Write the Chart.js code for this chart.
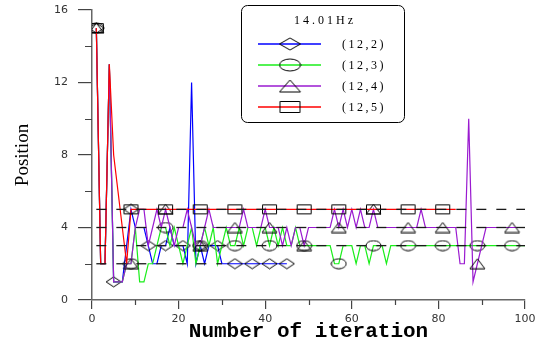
<!DOCTYPE html>
<html>
<head>
<meta charset="utf-8">
<script src="https://cdn.jsdelivr.net/npm/chart.js@4.4.1/dist/chart.umd.min.js"></script>
<style>
  html, body { margin: 0; padding: 0; background: #fff; }
  #wrap { width: 540px; height: 345px; }
</style>
</head>
<body>
<div id="wrap"><canvas id="chart" width="540" height="345"></canvas></div>
<script>
// values, one entry per iteration starting at 1
const firstIteration = 1;
const seriesLabels = ['(12,2)', '(12,3)', '(12,4)', '(12,5)'];
const legendTitle = '14.01Hz';

const blueVals = [15, 2, 2, 13, 1, 1, 1, 3, 5, 4,
                  4, 4, 3, 2, 2, 3, 3, 4, 3, 3,
                  3, 2, 12, 2, 3, 2, 3, 3, 3, 2,
                  2, 2, 2, 2, 2, 2, 2, 2, 2, 2,
                  2, 2, 2, 2, 2];
const greenVals = [15, 2, 2, 13, 1, 1, 1, 2, 2, 4,
                   1, 1, 2, 2, 3, 4, 4, 3, 4, 3,
                   2, 3, 4, 2, 3, 4, 3, 4, 2, 3,
                   4, 3, 3, 4, 3, 4, 4, 3, 4, 4,
                   3, 4, 3, 4, 3, 3, 4, 3, 3, 3,
                   3, 3, 3, 3, 3, 2, 2, 3, 3, 3,
                   2, 3, 3, 2, 3, 3, 3, 2, 3, 3,
                   3, 3, 3, 3, 3, 3, 3, 3, 3, 3,
                   3, 3, 3, 3, 3, 3, 3, 3, 3, 3,
                   3, 3, 3, 3, 3, 3, 3, 3, 3, 3];
const purpleVals = [15, 2, 2, 13, 1, 1, 1, 2, 2, 4,
                    5, 5, 3, 4, 5, 4, 5, 4, 3, 4,
                    4, 5, 4, 3, 3, 4, 5, 4, 4, 4,
                    4, 4, 4, 4, 5, 4, 4, 4, 4, 5,
                    4, 4, 4, 3, 4, 3, 4, 4, 3, 4,
                    4, 4, 4, 4, 4, 5, 4, 5, 4, 5,
                    4, 5, 4, 4, 5, 4, 4, 4, 4, 4,
                    4, 4, 4, 4, 4, 5, 4, 4, 4, 4,
                    4, 4, 4, 4, 2, 2, 10, 1, 2, 3,
                    4, 4, 4, 4, 4, 4, 4, 4, 4, 4];
const redVals = [15, 2, 2, 13, 8, 6, 4, 2, 5, 5,
                 5, 5, 5, 5, 5, 5, 5, 5, 5, 5,
                 5, 5, 5, 5, 5, 5, 5, 5, 5, 5,
                 5, 5, 5, 5, 5, 5, 5, 5, 5, 5,
                 5, 5, 5, 5, 5, 5, 5, 5, 5, 5,
                 5, 5, 5, 5, 5, 5, 5, 5, 5, 5,
                 5, 5, 5, 5, 5, 5, 5, 5, 5, 5,
                 5, 5, 5, 5, 5, 5, 5, 5, 5, 5,
                 5, 5, 5, 5];

// black dashed reference levels
const dashLevels = [5, 4, 3, 2];
const dashStart = [1, 1, 1, 1];
const dashEnd = [100, 100, 100, 30];

const xMinorTicks = [10, 30, 50, 70, 90];
const yMinorTicks = [2, 6, 10, 14];

const colors = ['#0000ff', '#1aee1a', '#9a1ad0', '#ff0000'];
const markerEvery = [4, 8, 8, 8];
const shapes = ['diamond', 'ellipse', 'triangle', 'rect'];

function makeMarker(shape, w, h) {
    const c = document.createElement('canvas');
    c.width = w + 2;
    c.height = h + 2;
    const g = c.getContext('2d');
    g.strokeStyle = '#000';
    g.lineWidth = 1;
    const cx = c.width / 2, cy = c.height / 2;
    g.beginPath();
    if (shape === 'diamond') {
        g.moveTo(cx, 1); g.lineTo(w + 1, cy); g.lineTo(cx, h + 1); g.lineTo(1, cy); g.closePath();
    } else if (shape === 'ellipse') {
        g.ellipse(cx, cy, w / 2, h / 2, 0, 0, Math.PI * 2);
    } else if (shape === 'triangle') {
        g.moveTo(cx, 1); g.lineTo(w + 1, h + 1); g.lineTo(1, h + 1); g.closePath();
    } else {
        g.rect(1.5, 1.5, w - 1, h - 1);
    }
    g.stroke();
    return c;
}

const plotMarkers = shapes.map(s => makeMarker(s, 15, 10));
const legendMarkers = shapes.map(s => makeMarker(s, 21, 12));

const toPoints = vals => vals.map((v, i) => ({ x: firstIteration + i, y: v }));

const seriesVals = [blueVals, greenVals, purpleVals, redVals];
const seriesOrder = [4, 3, 2, 1];

const datasets = seriesVals.map((vals, k) => ({
    label: seriesLabels[k],
    data: toPoints(vals),
    borderColor: colors[k],
    borderWidth: 1.2,
    tension: 0,
    pointStyle: plotMarkers[k],
    pointRadius: ctx => (ctx.dataIndex % markerEvery[k] === 0 ? 5 : 0),
    pointHoverRadius: 0,
    order: seriesOrder[k],
}));

dashLevels.forEach((lvl, k) => {
    datasets.push({
        label: 'level ' + lvl,
        data: [{ x: dashStart[k], y: lvl }, { x: dashEnd[k], y: lvl }],
        borderColor: '#1a1a1a',
        borderWidth: 1.3,
        borderDash: [10, 10],
        pointRadius: 0,
        order: 0,
    });
});

const extras = {
    id: 'extras',
    afterDraw(chart) {
        const { ctx, scales: { x, y } } = chart;
        ctx.save();
        // minor ticks
        ctx.strokeStyle = '#444';
        ctx.lineWidth = 1.2;
        ctx.beginPath();
        yMinorTicks.forEach(v => {
            const py = Math.round(y.getPixelForValue(v)) + 0.5;
            ctx.moveTo(x.left - 7, py);
            ctx.lineTo(x.left, py);
        });
        xMinorTicks.forEach(v => {
            const px = Math.round(x.getPixelForValue(v)) + 0.5;
            ctx.moveTo(px, y.bottom);
            ctx.lineTo(px, y.bottom + 5);
        });
        ctx.stroke();

        // legend box
        ctx.beginPath();
        ctx.roundRect(241.5, 5.5, 163, 117, 6);
        ctx.fillStyle = '#fff';
        ctx.fill();
        ctx.strokeStyle = '#000';
        ctx.lineWidth = 1;
        ctx.stroke();

        ctx.fillStyle = '#000';
        ctx.textBaseline = 'middle';
        ctx.font = '12px "Liberation Serif"';
        ctx.letterSpacing = '3px';
        ctx.textAlign = 'center';
        ctx.fillText(legendTitle, 325, 21);

        const rowY = [44, 65, 86, 107];
        ctx.font = '12px "Liberation Serif"';
        ctx.letterSpacing = '2.5px';
        ctx.textAlign = 'left';
        seriesLabels.forEach((lab, k) => {
            ctx.beginPath();
            ctx.strokeStyle = colors[k];
            ctx.lineWidth = 1.5;
            ctx.moveTo(258, rowY[k]);
            ctx.lineTo(321, rowY[k]);
            ctx.stroke();
            const m = legendMarkers[k];
            ctx.drawImage(m, 290 - m.width / 2, rowY[k] - m.height / 2);
            ctx.fillText(lab, 342, rowY[k] + 1);
        });
        ctx.restore();
    }
};

const tickFont = { family: 'DejaVu Sans', size: 11 };

new Chart(document.getElementById('chart'), {
    type: 'line',
    data: { datasets: datasets },
    options: {
        responsive: false,
        animation: false,
        devicePixelRatio: 1,
        layout: { padding: { left: 0, right: 15, top: 10, bottom: 0 } },
        plugins: {
            legend: { display: false },
            tooltip: { enabled: false },
        },
        scales: {
            x: {
                type: 'linear',
                min: 0,
                max: 100,
                ticks: { stepSize: 20, font: tickFont, color: '#333', padding: 4, maxRotation: 0 },
                grid: { display: true, drawOnChartArea: false, drawTicks: true, tickLength: 9, color: '#444', lineWidth: 1.2 },
                border: { display: true, color: '#666', width: 1.5 },
                title: {
                    display: true,
                    text: 'Number of iteration',
                    font: { family: 'Liberation Mono', size: 21, weight: 'bold' },
                    color: '#000',
                    padding: { top: 0, bottom: 1 },
                },
                afterFit: s => { s.height = 45; s.paddingLeft = 0; s.paddingRight = 0; },
            },
            y: {
                min: 0,
                max: 16,
                ticks: { stepSize: 4, font: tickFont, color: '#333', padding: 10 },
                grid: { display: true, drawOnChartArea: false, drawTicks: true, tickLength: 14, color: '#444', lineWidth: 1.2 },
                border: { display: true, color: '#666', width: 1.5 },
                title: {
                    display: true,
                    text: 'Position',
                    font: { family: 'Liberation Serif', size: 19 },
                    color: '#000',
                    padding: { top: 12, bottom: 0 },
                },
                afterFit: s => { s.width = 92; s.paddingTop = 0; s.paddingBottom = 0; },
            },
        },
    },
    plugins: [extras],
});
</script>
</body>
</html>
